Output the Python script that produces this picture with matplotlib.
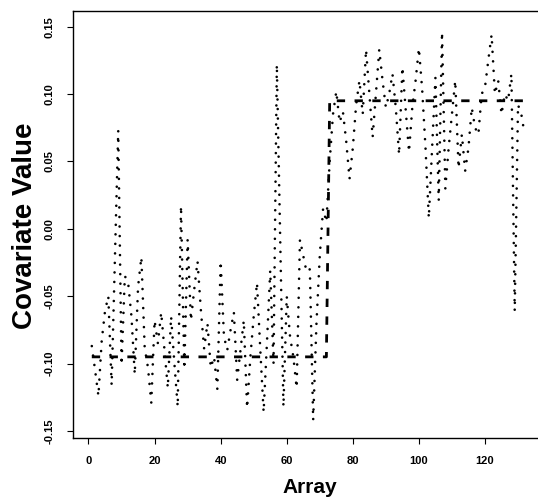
import numpy as np
import matplotlib
matplotlib.use("Agg")
import matplotlib.pyplot as plt

# ---- data ----
covariate = [
    -0.087, -0.105, -0.124, -0.083, -0.061, -0.050, -0.116, -0.020, 0.073, -0.101,
    -0.035, -0.040, -0.065, -0.108, -0.043, -0.021, -0.088, -0.103, -0.129, -0.068,
    -0.085, -0.062, -0.090, -0.118, -0.065, -0.100, -0.132, 0.017, -0.104, -0.008,
    -0.068, -0.045, -0.024, -0.060, -0.089, -0.070, -0.103, -0.095, -0.119, -0.024,
    -0.080, -0.090, -0.075, -0.062, -0.112, -0.090, -0.068, -0.133, -0.095, -0.065,
    -0.040, -0.090, -0.136, -0.085, -0.031, -0.100, 0.122, -0.005, -0.132, -0.050,
    -0.080, -0.095, -0.118, -0.008, -0.020, -0.032, -0.030, -0.142, -0.070, -0.020,
    0.015, 0.005, 0.050, 0.085, 0.102, 0.079, 0.087, 0.065, 0.037, 0.060,
    0.092, 0.110, 0.085, 0.133, 0.100, 0.068, 0.100, 0.133, 0.110, 0.090,
    0.100, 0.115, 0.090, 0.055, 0.120, 0.088, 0.057, 0.090, 0.110, 0.134,
    0.103, 0.060, 0.008, 0.060, 0.112, 0.021, 0.146, 0.030, 0.060, 0.085,
    0.110, 0.045, 0.070, 0.043, 0.060, 0.090, 0.075, 0.070, 0.100, 0.105,
    0.125, 0.144, 0.100, 0.110, 0.085, 0.100, 0.095, 0.115, -0.061, 0.092,
    0.085, 0.070,
]
array_index = np.arange(1, len(covariate) + 1)

fit_x = [1, 72, 73, 132]
fit_y = [-0.095, -0.095, 0.095, 0.095]

x_ticks = [0, 20, 40, 60, 80, 100, 120]
y_ticks = [-0.15, -0.10, -0.05, 0.00, 0.05, 0.10, 0.15]
y_tick_labels = ["-0.15", "-0.10", "-0.05", "0.00", "0.05", "0.10", "0.15"]

# ---- figure ----
W, H = 538, 503
fig = plt.figure(figsize=(W / 100, H / 100), dpi=100)
left_px, right_px, top_px, bottom_px = 73, 542.8, 11, 438
ax = fig.add_axes([left_px / W, 1 - bottom_px / H,
                   (right_px - left_px) / W, (bottom_px - top_px) / H])

font = "Liberation Sans"

ax.plot(array_index, covariate, color="black", lw=1.9,
        linestyle=(0, (0.01, 3.6)), dash_capstyle="round")
ax.plot(fit_x, fit_y, color="black", lw=2.0,
        linestyle=(0, (3.0, 3.4)), dash_capstyle="butt")

ax.set_xlim(-4.69, 137.5)
ax.set_ylim(-0.1552, 0.1616)

ax.set_xticks(x_ticks)
ax.set_xticklabels([str(t) for t in x_ticks], fontsize=8, fontweight="bold",
                   family=font)
ax.set_yticks(y_ticks)
ax.set_yticklabels(y_tick_labels, fontsize=8, fontweight="bold", family=font,
                   rotation=90, va="center")
ax.tick_params(axis="both", direction="out", length=4.3, width=0.8,
               color="black", pad=9)

for s in ax.spines.values():
    s.set_linewidth(1.0)
    s.set_color("black")

ax.set_xlabel("Array", fontsize=15, fontweight="bold", family=font, va="center")
ax.xaxis.set_label_coords(0.5045, -0.117)
ax.set_ylabel("Covariate Value", fontsize=20, fontweight="bold", family=font,
              va="center")
ax.yaxis.set_label_coords((25 - left_px) / (right_px - left_px),
                          (bottom_px - 226) / (bottom_px - top_px))

fig.savefig("out.png", dpi=100)
